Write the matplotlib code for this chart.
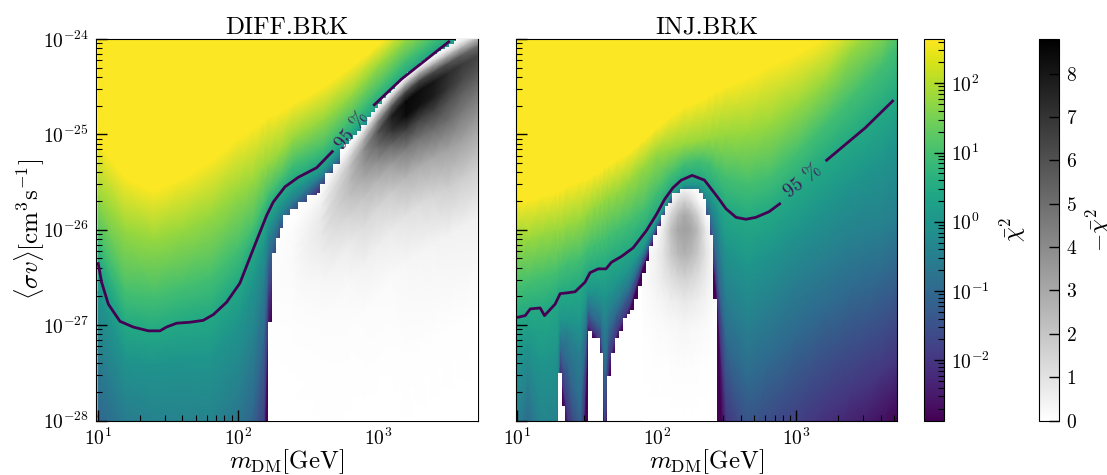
import numpy as np
import matplotlib
matplotlib.use("Agg")
import matplotlib.pyplot as plt
from matplotlib.colors import LogNorm, Normalize
from matplotlib.cm import ScalarMappable

plt.rcParams.update({
    "font.family": ["cmr10", "DejaVu Sans"],
    "mathtext.fontset": "cm",
    "axes.unicode_minus": False,
    "axes.formatter.use_mathtext": True,
})

titles = ["DIFF.BRK", "INJ.BRK"]
CONTOUR_COLOR = "#440154"

# log10(chi2) levels; each table row gives log10(sigma v) where a mass column reaches that level
chi_levels = [-3, -2, -1, -0.5, 0, 0.45, 1, 1.8, 2.6]

diff_mass = [1.0, 1.2, 1.4, 1.6, 1.8, 2.0, 2.1, 2.18, 2.22, 2.3, 2.4, 2.6, 2.8, 3.0, 3.2, 3.4, 3.55, 3.75]
diff_iso = [
    [-30.4, -29.2, -27.95, -27.25, -26.65, -26.34, -26.1, -25.65, -25.1],
    [-30.5, -29.6, -28.6, -27.9, -27.35, -27.0, -26.65, -26.0, -25.47],
    [-31.0, -29.8, -28.7, -28.1, -27.4, -27.06, -26.7, -26.1, -25.6],
    [-31.0, -29.8, -28.7, -28.1, -27.35, -26.97, -26.6, -26.0, -25.47],
    [-31.0, -29.9, -28.8, -28.15, -27.35, -26.91, -26.5, -25.85, -25.3],
    [-30.5, -29.4, -28.4, -27.7, -27.0, -26.56, -26.2, -25.6, -25.05],
    [-30.0, -29.0, -27.95, -27.25, -26.6, -26.23, -26.0, -25.5, -24.96],
    [-29.1, -28.3, -27.2, -26.6, -26.2, -25.95, -25.75, -25.35, -24.87],
    [-27.1, -26.7, -26.3, -26.1, -25.95, -25.78, -25.62, -25.3, -24.82],
    [-26.3, -26.1, -25.93, -25.85, -25.75, -25.62, -25.48, -25.2, -24.78],
    [-26.1, -25.9, -25.74, -25.68, -25.58, -25.48, -25.3, -25.03, -24.68],
    [-25.7, -25.55, -25.47, -25.43, -25.38, -25.3, -25.15, -24.85, -24.52],
    [-25.3, -25.22, -25.14, -25.1, -25.06, -25.0, -24.85, -24.6, -24.31],
    [-24.96, -24.88, -24.8, -24.76, -24.72, -24.68, -24.53, -24.28, -24.07],
    [-24.65, -24.57, -24.5, -24.45, -24.41, -24.37, -24.22, -24.0, -23.8],
    [-24.4, -24.32, -24.25, -24.2, -24.16, -24.12, -24.0, -23.78, -23.55],
    [-24.28, -24.2, -24.13, -24.08, -24.04, -24.0, -23.85, -23.63, -23.4],
    [-24.05, -23.97, -23.9, -23.85, -23.81, -23.77, -23.62, -23.4, -23.17],
]

inj_mass = [1.0, 1.08, 1.18, 1.28, 1.31, 1.36, 1.45, 1.51, 1.56, 1.6, 1.63, 1.66, 1.72, 1.8, 1.9,
            2.0, 2.1, 2.2, 2.3, 2.38, 2.43, 2.5, 2.65, 2.8, 3.0, 3.2, 3.4, 3.6, 3.75]
inj_iso = [
    [-31.0, -29.8, -28.6, -28.0, -27.3, -26.92, -26.6, -26.1, -25.71],
    [-30.3, -29.2, -28.1, -27.6, -27.2, -26.87, -26.55, -26.1, -25.7],
    [-31.0, -30.0, -28.8, -28.2, -27.4, -26.85, -26.5, -26.05, -25.65],
    [-31.0, -29.9, -28.7, -28.1, -27.3, -26.75, -26.45, -26.0, -25.62],
    [-27.55, -27.45, -27.25, -27.1, -26.95, -26.67, -26.4, -26.0, -25.6],
    [-28.2, -27.9, -27.4, -27.1, -26.95, -26.66, -26.35, -25.95, -25.55],
    [-29.8, -28.8, -27.9, -27.3, -27.0, -26.6, -26.3, -25.9, -25.5],
    [-27.1, -27.0, -26.85, -26.75, -26.65, -26.45, -26.2, -25.82, -25.47],
    [-27.15, -27.08, -26.95, -26.8, -26.65, -26.42, -26.15, -25.75, -25.42],
    [-27.32, -27.2, -27.0, -26.85, -26.68, -26.41, -26.12, -25.72, -25.4],
    [-28.5, -28.1, -27.5, -27.0, -26.7, -26.41, -26.1, -25.68, -25.35],
    [-27.55, -27.35, -27.05, -26.85, -26.65, -26.36, -26.05, -25.65, -25.33],
    [-27.15, -27.05, -26.85, -26.72, -26.55, -26.3, -26.0, -25.6, -25.27],
    [-26.9, -26.82, -26.65, -26.55, -26.42, -26.22, -25.92, -25.5, -25.2],
    [-26.42, -26.37, -26.3, -26.25, -26.2, -26.06, -25.8, -25.35, -25.07],
    [-26.05, -26.0, -25.96, -25.93, -25.9, -25.85, -25.6, -25.2, -24.94],
    [-25.8, -25.72, -25.68, -25.66, -25.64, -25.59, -25.42, -25.15, -24.82],
    [-25.7, -25.62, -25.58, -25.56, -25.53, -25.46, -25.3, -25.1, -24.72],
    [-25.7, -25.63, -25.6, -25.57, -25.53, -25.45, -25.27, -25.07, -24.66],
    [-26.1, -26.0, -25.85, -25.75, -25.65, -25.55, -25.3, -25.04, -24.6],
    [-26.75, -26.6, -26.3, -26.0, -25.8, -25.63, -25.38, -25.02, -24.55],
    [-29.3, -28.0, -27.2, -26.7, -26.2, -25.79, -25.45, -25.0, -24.5],
    [-29.7, -28.7, -27.6, -27.0, -26.4, -25.89, -25.52, -24.98, -24.42],
    [-29.5, -28.5, -27.4, -26.8, -26.25, -25.81, -25.45, -24.9, -24.3],
    [-29.2, -28.2, -27.1, -26.5, -26.0, -25.56, -25.2, -24.7, -24.17],
    [-28.9, -27.9, -26.85, -26.3, -25.75, -25.29, -24.9, -24.45, -24.0],
    [-28.6, -27.7, -26.65, -26.1, -25.5, -25.05, -24.6, -24.1, -23.8],
    [-28.25, -27.5, -26.5, -26.0, -25.3, -24.78, -24.3, -23.85, -23.6],
    [-28.0, -27.3, -26.3, -25.8, -25.0, -24.55, -24.0, -23.5, -23.2],
]

# upper edge of the excess (negative chi2) region: log10 mass bin edges, log10 sigma v
diff_edge_mass = [2.217, 2.245, 2.271, 2.3, 2.324, 2.371, 2.431, 2.49, 2.562, 2.586, 2.621, 2.681, 2.729,
                  2.76, 2.79, 2.824, 2.85, 2.88, 2.919, 2.95, 2.979, 3.0, 3.03, 3.06, 3.09, 3.12, 3.15, 3.18,
                  3.21, 3.24, 3.27, 3.3, 3.33, 3.36, 3.39, 3.42, 3.45, 3.48, 3.51, 3.54, 3.56, 3.75]
diff_edge_sig = [-26.97, -26.24, -26.09, -25.98, -25.85, -25.78, -25.71, -25.64, -25.61, -25.52, -25.40,
                 -25.31, -25.15, -25.10, -25.05, -25.01, -24.96, -24.90, -24.82, -24.77, -24.72, -24.68, -24.62,
                 -24.57, -24.52, -24.47, -24.43, -24.39, -24.35, -24.31, -24.28, -24.24, -24.21, -24.18, -24.16,
                 -24.13, -24.11, -24.08, -24.05, -24.02, -24.0, -23.9]

inj_edge_mass = [1.0, 1.297, 1.321, 1.344, 1.511, 1.539, 1.594, 1.618, 1.641, 1.672, 1.701, 1.729, 1.758,
                 1.784, 1.808, 1.836, 1.865, 1.893, 1.922, 1.945, 1.974, 2.002, 2.029, 2.057, 2.081, 2.109,
                 2.164, 2.306, 2.33, 2.354, 2.378, 2.406, 2.435]
inj_edge_sig = [-30, -27.50, -27.85, -30, -27.06, -27.13, -27.29, -30, -27.53, -27.29, -27.13, -27.06, -26.93,
                -26.88, -26.84, -26.73, -26.59, -26.45, -26.33, -26.17, -26.05, -25.96, -25.85, -25.75, -25.72,
                -25.61, -25.57, -25.61, -25.68, -25.85, -26.05, -26.73, -30]

# -chi2 read from the grey areas.
# DIFF.BRK: columns at these masses, sampled at fixed depths below the smooth top of the grey region
diff_grey_mass = [2.22, 2.4, 2.6, 2.8, 2.9, 3.0, 3.1, 3.2, 3.3, 3.4, 3.5, 3.6, 3.75]
diff_grey_top = [-26.0, -25.75, -25.45, -25.05, -24.87, -24.68, -24.51, -24.36, -24.24, -24.15, -24.06, -23.97, -23.85]
diff_grey_depth = [0, .06, .12, .2, .3, .45, .6, .8, 1.1, 1.5, 2, 3, 4.2]
diff_grey = [
    [0, 0, .02, .05, .08, .1, .1, .08, .05, .03, .02, .01, 0],
    [0, .03, .06, .1, .15, .18, .18, .15, .1, .05, .02, .01, 0],
    [0, .1, .2, .35, .6, .8, .8, .6, .3, .12, .04, .01, 0],
    [0, .3, .8, 1.6, 2.2, 2.4, 2.1, 1.5, .7, .25, .08, .02, 0],
    [0, .5, 1.6, 3.0, 3.9, 3.6, 2.9, 2.0, 1.2, .45, .12, .03, 0],
    [0, .7, 2.5, 4.6, 5.9, 5.0, 3.9, 2.6, 1.4, .55, .15, .03, 0],
    [0, .8, 3.0, 6.0, 7.8, 7.0, 5.2, 3.4, 1.8, .7, .2, .03, 0],
    [0, .8, 3.2, 6.5, 8.5, 8.4, 6.6, 4.5, 2.5, 1.0, .3, .04, .01],
    [0, .8, 3.2, 6.5, 8.3, 8.2, 6.6, 4.8, 2.8, 1.2, .35, .05, .01],
    [0, .8, 3.2, 6.3, 8.0, 7.8, 6.6, 5.0, 3.0, 1.4, .4, .06, .01],
    [0, .8, 3.0, 6.0, 7.3, 7.0, 6.0, 5.0, 3.2, 1.7, .45, .06, .01],
    [0, .8, 2.8, 5.5, 6.8, 6.3, 5.5, 4.6, 3.2, 1.7, .5, .06, .01],
    [0, .8, 2.6, 5.0, 6.3, 5.8, 5.0, 4.1, 2.9, 1.6, .5, .06, .01],
]

inj_grey_mass = [1.9, 2.0, 2.05, 2.1, 2.15, 2.2, 2.25, 2.3, 2.35, 2.4, 2.45]
inj_grey_sig = [-28, -27.5, -27, -26.75, -26.5, -26.25, -26, -25.85, -25.7, -25.55]
inj_grey = [
    [0, .02, .06, .1, .1, 0, 0, 0, 0, 0],
    [.01, .04, .15, .3, .5, .5, .1, 0, 0, 0],
    [.01, .05, .2, .4, .8, 1.0, .8, .2, 0, 0],
    [.01, .06, .25, .55, 1.1, 1.8, 2.1, 1.4, .3, 0],
    [.02, .07, .3, .65, 1.4, 2.4, 3.0, 2.4, 1.2, 0],
    [.02, .08, .35, .8, 1.6, 2.7, 3.3, 3.0, 1.7, .2],
    [.02, .07, .3, .7, 1.4, 2.4, 3.0, 2.5, 1.2, 0],
    [.01, .06, .25, .55, 1.1, 1.8, 2.2, 1.5, .3, 0],
    [.01, .05, .18, .4, .7, 1.0, .8, .2, 0, 0],
    [0, .03, .1, .2, .3, .3, .1, 0, 0, 0],
    [0, .01, .05, .1, .1, 0, 0, 0, 0, 0],
]

# 95 % limit, two pieces either side of its label
diff_lim_m1 = [1.0, 1.026, 1.074, 1.157, 1.252, 1.36, 1.443, 1.49, 1.562, 1.657, 1.752, 1.824, 1.919, 2.014,
               2.11, 2.205, 2.252, 2.336, 2.431, 2.562, 2.681]
diff_lim_s1 = [-26.34, -26.55, -26.78, -26.96, -27.02, -27.06, -27.06, -27.02, -26.98, -26.97, -26.95, -26.89,
               -26.76, -26.56, -26.20, -25.85, -25.71, -25.55, -25.45, -25.35, -25.17]
diff_lim_m2 = [2.967, 3.169, 3.514]
diff_lim_s2 = [-24.70, -24.42, -24.02]

inj_lim_m1 = [1.0, 1.059, 1.095, 1.166, 1.197, 1.273, 1.309, 1.368, 1.416, 1.487, 1.523, 1.582, 1.637, 1.677,
              1.748, 1.831, 1.926, 1.998, 2.057, 2.116, 2.176, 2.254, 2.342, 2.437, 2.496, 2.568, 2.639, 2.71,
              2.805, 2.888]
inj_lim_s1 = [-26.92, -26.90, -26.83, -26.82, -26.90, -26.78, -26.67, -26.66, -26.65, -26.55, -26.45, -26.41,
              -26.41, -26.34, -26.28, -26.19, -26.01, -25.84, -25.68, -25.56, -25.48, -25.43, -25.48, -25.66,
              -25.78, -25.87, -25.89, -25.87, -25.81, -25.72]
inj_lim_m2 = [3.209, 3.494, 3.696]
inj_lim_s2 = [-25.28, -24.93, -24.64]

x_major = [1e1, 1e2, 1e3]
y_major = [1e-28, 1e-27, 1e-26, 1e-25, 1e-24]

W, H = 1107, 475
def box(x0, x1, y0=39, y1=420.5):
    return [x0 / W, 1 - y1 / H, (x1 - x0) / W, (y1 - y0) / H]

fig = plt.figure(figsize=(W / 100, H / 100), dpi=100)
ax1 = fig.add_axes(box(96, 478))
ax2 = fig.add_axes(box(516, 897))
cax1 = fig.add_axes(box(924, 944))
cax2 = fig.add_axes(box(1039, 1059))

LOG_CHI_MIN, LOG_CHI_MAX = -2.87, 2.64
GREY_MAX = 8.8
chi_norm = Normalize(LOG_CHI_MIN, LOG_CHI_MAX)
grey_norm = Normalize(0, GREY_MAX)


def panel(ax, title, mass, iso, edge_m, edge_s, g_x, g_y, g_v, m1, s1, m2, s2, xlim):
    iso = np.asarray(iso, float)
    mass = np.asarray(mass, float)
    # close the mesh below and above the table so that the colours fill the axes
    Ys = np.column_stack([np.full(len(mass), -33.0), iso, np.full(len(mass), -22.0)])
    Ls = np.tile([chi_levels[0]] + list(chi_levels) + [chi_levels[-1]], (len(mass), 1))
    Xs = np.tile(mass[:, None], (1, Ys.shape[1]))
    ax.pcolormesh(10.0 ** Xs, 10.0 ** Ys, Ls, shading="gouraud", cmap="viridis", norm=chi_norm, zorder=1)

    em = 10.0 ** np.asarray(edge_m)
    es = 10.0 ** np.asarray(edge_s)
    poly = ax.fill_between(em, 1e-31, es, step="post", color="white", lw=0, zorder=2)

    grey = ax.pcolormesh(10.0 ** g_x, 10.0 ** g_y, np.asarray(g_v), shading="gouraud", cmap="gray_r",
                         norm=grey_norm, zorder=3)
    grey.set_clip_path(poly.get_paths()[0], poly.get_transform())

    for m, s in ((m1, s1), (m2, s2)):
        ax.plot(10.0 ** np.asarray(m), 10.0 ** np.asarray(s), color=CONTOUR_COLOR, lw=2, zorder=5,
                solid_capstyle="butt")

    ax.set_xscale("log")
    ax.set_yscale("log")
    ax.set_xticks(x_major)
    ax.set_yticks(y_major)
    ax.xaxis.set_minor_locator(matplotlib.ticker.LogLocator(base=10, subs=np.arange(2, 10), numticks=12))
    ax.xaxis.set_minor_formatter(matplotlib.ticker.NullFormatter())
    ax.yaxis.set_minor_locator(matplotlib.ticker.LogLocator(base=10, subs=np.arange(2, 10), numticks=12))
    ax.yaxis.set_minor_formatter(matplotlib.ticker.NullFormatter())
    ax.set_xlim(10 ** xlim[0], 10 ** xlim[1])
    ax.set_ylim(1e-28, 1e-24)
    ax.set_title(title, fontsize=18, pad=4)
    ax.set_xlabel(r"$m_{\rm DM}[{\rm GeV}]$", fontsize=18, labelpad=-1)
    ax.tick_params(which="major", direction="in", length=8, width=1, labelsize=14, pad=5,
                   top=False, right=False)
    ax.tick_params(which="minor", direction="in", length=4.5, width=0.8, top=False, right=False)


dg_x = np.tile(np.asarray(diff_grey_mass)[:, None], (1, len(diff_grey_depth)))
dg_y = np.asarray(diff_grey_top)[:, None] - np.asarray(diff_grey_depth)[None, :]
ig_x, ig_y = np.meshgrid(inj_grey_mass, inj_grey_sig, indexing="ij")

panel(ax1, titles[0], diff_mass, diff_iso, diff_edge_mass, diff_edge_sig, dg_x, dg_y,
      diff_grey, diff_lim_m1, diff_lim_s1, diff_lim_m2, diff_lim_s2, (0.986, 3.715))
panel(ax2, titles[1], inj_mass, inj_iso, inj_edge_mass, inj_edge_sig, ig_x, ig_y,
      inj_grey, inj_lim_m1, inj_lim_s1, inj_lim_m2, inj_lim_s2, (0.993, 3.72))

ax1.set_ylabel(r"$\langle\sigma v\rangle[\mathrm{cm}^3\mathrm{s}^{-1}]$", fontsize=18, labelpad=-3)
ax2.tick_params(axis="y", which="both", labelleft=False)

ax1.text(10 ** 2.82, 10 ** -24.96, "95 %", color=CONTOUR_COLOR, fontsize=14, rotation=52,
         ha="center", va="center", rotation_mode="anchor", zorder=6, alpha=0.85)
ax2.text(10 ** 3.05, 10 ** -25.49, "95 %", color=CONTOUR_COLOR, fontsize=14, rotation=38,
         ha="center", va="center", rotation_mode="anchor", zorder=6, alpha=0.85)

cb1 = fig.colorbar(ScalarMappable(LogNorm(10 ** LOG_CHI_MIN, 10 ** LOG_CHI_MAX), "viridis"), cax=cax1)
cb2 = fig.colorbar(ScalarMappable(grey_norm, "gray_r"), cax=cax2)
cb2.set_ticks(range(0, 9))
cb1.set_label(r"$\bar{\chi}^2$", fontsize=17, labelpad=6)
cb2.set_label(r"$-\bar{\chi}^2$", fontsize=17, labelpad=5)
for cax in (cax1, cax2):
    cax.tick_params(which="major", direction="in", length=7, width=1, labelsize=14, pad=5, right=True)
    cax.tick_params(which="minor", direction="in", length=4, width=0.8, right=True)

fig.savefig("out.png", dpi=100)
